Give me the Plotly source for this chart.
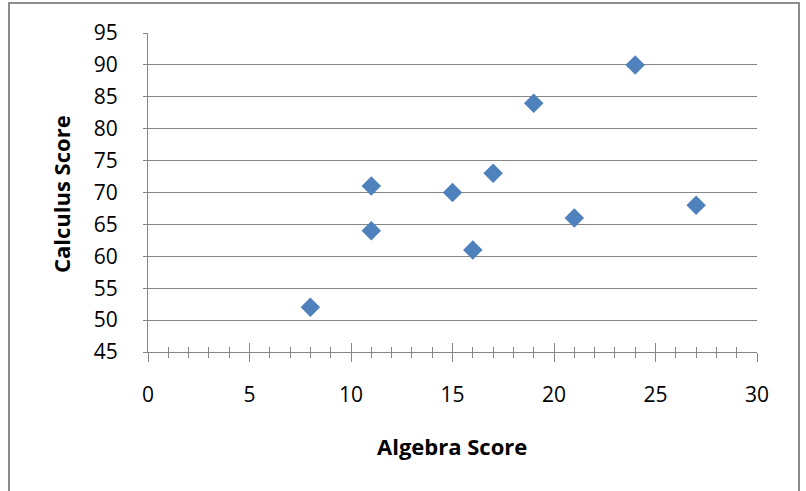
import plotly.graph_objects as go

algebra = [8, 11, 11, 15, 16, 17, 19, 21, 24, 27]
calculus = [52, 71, 64, 70, 61, 73, 84, 66, 90, 68]
x_ticks = [0, 5, 10, 15, 20, 25, 30]
y_ticks = [45, 50, 55, 60, 65, 70, 75, 80, 85, 90, 95]

W, H = 806, 491
L, R, T, B = 148, 49, 33, 139
pw, ph = W - L - R, H - T - B

font = "Open Sans, Liberation Sans, sans-serif"
grid = "#868686"

fig = go.Figure()
fig.add_trace(go.Scatter(
    x=algebra, y=calculus, mode="markers",
    marker=dict(symbol="diamond", size=15, color="#4F81BD", line=dict(width=0)),
    showlegend=False, hoverinfo="x+y"))
# invisible trace to keep the overlaying axis (inner ticks)
fig.add_trace(go.Scatter(x=[None], y=[None], xaxis="x2", yaxis="y",
                         showlegend=False, hoverinfo="skip"))

fig.update_layout(
    width=W, height=H,
    margin=dict(l=L, r=R, t=T, b=B),
    paper_bgcolor="white", plot_bgcolor="white",
    font=dict(family=font, size=21, color="#000000"),
    xaxis=dict(range=[0, 30], tickvals=x_ticks, showgrid=False, zeroline=False,
               showline=True, linecolor=grid, linewidth=1,
               ticks="outside", ticklen=9, tickcolor=grid, tickwidth=1,
               minor=dict(dtick=1, ticks="outside", ticklen=5, tickcolor=grid, showgrid=False),
               ticklabelstandoff=15, tickfont=dict(size=21)),
    xaxis2=dict(range=[0, 30], overlaying="x", side="bottom", anchor="y",
                tickvals=x_ticks, showticklabels=False, showgrid=False, zeroline=False,
                showline=False, ticks="inside", ticklen=9, tickcolor=grid, tickwidth=1,
                minor=dict(dtick=1, ticks="inside", ticklen=5, tickcolor=grid, showgrid=False)),
    yaxis=dict(range=[45, 95], tickvals=y_ticks, showgrid=True, gridcolor=grid, gridwidth=1,
               zeroline=False, showline=True, linecolor=grid, linewidth=1,
               ticks="outside", ticklen=4, tickcolor=grid, tickwidth=1,
               ticklabelstandoff=21, tickfont=dict(size=21)),
    annotations=[
        dict(text="<b>Algebra Score</b>", xref="paper", yref="paper",
             x=(452 - L) / pw, y=(352 - 446) / ph, xanchor="center", yanchor="middle",
             showarrow=False, font=dict(size=22, family=font)),
        dict(text="<b>Calculus Score</b>", xref="paper", yref="paper",
             x=(61 - L) / pw, y=(352 - 194) / ph, xanchor="center", yanchor="middle",
             textangle=-90, showarrow=False, font=dict(size=22, family=font)),
    ],
    shapes=[
        dict(type="rect", xref="paper", yref="paper",
             x0=(9 - L) / pw, x1=(799 - L) / pw, y0=(352 - 520) / ph, y1=(352 - 3) / ph,
             line=dict(color="#8c8c8c", width=2), fillcolor="rgba(0,0,0,0)", layer="below"),
    ],
)

fig.write_html("out.html")
